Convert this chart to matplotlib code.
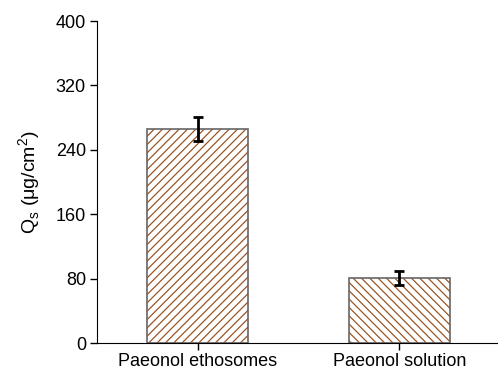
import matplotlib
matplotlib.use('Agg')
import matplotlib.pyplot as plt

categories = ['Paeonol ethosomes', 'Paeonol solution']
values = [266, 81]
errors = [15, 9]
hatches = ['////', '\\\\\\\\']

plt.rcParams['font.family'] = ['Liberation Sans', 'DejaVu Sans']
plt.rcParams['hatch.linewidth'] = 0.9

fig = plt.figure(figsize=(4.98, 3.71), dpi=100)
ax = fig.add_axes([97 / 498, 28 / 371, 401 / 498, 322 / 371])

x = list(range(len(categories)))
for i in x:
    # hatch in brown, outline drawn separately in grey
    ax.bar(i, values[i], width=0.5, color='white', edgecolor='#9a5526',
           linewidth=0, hatch=hatches[i], zorder=2)
    ax.bar(i, values[i], width=0.5, fill=False, edgecolor='#666666',
           linewidth=1.2, zorder=2)
ax.errorbar(x, values, yerr=errors, fmt='none', ecolor='black',
            elinewidth=2, capsize=3.5, capthick=2, zorder=3)

ax.set_xlim(-0.5, 1.49)
ax.set_ylim(0, 400)
ax.set_yticks([0, 80, 160, 240, 320, 400])
ax.set_xticks(x)
ax.set_xticklabels(categories, fontsize=13)
ax.tick_params(axis='y', labelsize=13, length=5, width=1, pad=3)
ax.tick_params(axis='x', length=5, width=1, pad=2)
ax.spines['top'].set_visible(False)
ax.spines['right'].set_visible(False)
ax.set_ylabel(r'Q$_\mathregular{s}$ ($\mathregular{\mu}$g/cm$^\mathregular{2}$)', fontsize=14, labelpad=9)

fig.savefig('out.png', dpi=100)
